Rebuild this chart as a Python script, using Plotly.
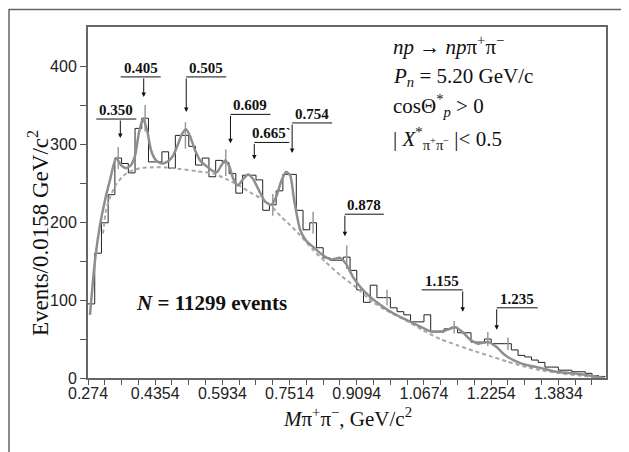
import plotly.graph_objects as go

# ---------------- data ----------------
x_start = 0.274
bin_width = 0.0158
counts = [95, 160, 199, 235, 282, 275, 263, 320, 333, 277,
          277, 290, 269, 311, 311, 297, 273, 282, 258, 279,
          276, 262, 237, 260, 260, 254, 215, 222, 240, 261,
          261, 215, 190, 199, 167, 154, 151, 151, 155, 138,
          113, 97, 119, 103, 103, 90, 85, 81, 72, 72,
          81, 59, 59, 63, 65, 58, 58, 46, 46, 50,
          44, 44, 44, 36, 29, 27, 23, 20, 14, 14,
          10, 10, 8, 8, 6, 3, 2]

err_bins = [4, 8, 14, 20, 27, 33, 38, 44, 54, 59, 62]
err_vals = [14, 17, 17, 17, 14, 14, 15, 10, 8, 9, 8]

fit_m = [0.2787, 0.2905, 0.3022, 0.3140, 0.3258, 0.3399, 0.3516, 0.3634, 0.3752, 0.3846,
         0.3940, 0.4034, 0.4128, 0.4222, 0.4340, 0.4481, 0.4622, 0.4740, 0.4858, 0.4952,
         0.5046, 0.5140, 0.5258, 0.5375, 0.5516, 0.5658, 0.5775, 0.5869, 0.5964, 0.6058,
         0.6152, 0.6269, 0.6387, 0.6505, 0.6622, 0.6764, 0.6905, 0.7046, 0.7164, 0.7281,
         0.7399, 0.7493, 0.7587, 0.7728, 0.7870, 0.8034, 0.8246, 0.8458, 0.8669, 0.8811,
         0.8975, 0.9140, 0.9375, 0.9611, 0.9916, 1.0246, 1.0552, 1.0787, 1.1093, 1.1375,
         1.1564, 1.1729, 1.1917, 1.2152, 1.2340, 1.2528, 1.2740, 1.3022, 1.3375, 1.3752,
         1.4152, 1.4552, 1.4881]
fit_v = [81, 151, 196, 228, 254, 282, 273, 269, 273, 285,
         315, 333, 318, 292, 279, 275, 278, 285, 300, 313,
         319, 310, 292, 279, 272, 266, 264, 272, 279, 272,
         256, 247, 255, 261, 255, 240, 226, 222, 232, 252,
         264, 260, 228, 190, 176, 168, 158, 152, 154, 146,
         129, 117, 104, 94, 83, 74, 66, 60, 60, 65,
         58, 49, 44, 46, 40, 30, 23, 17, 13, 8,
         6, 3, 0]

bg_m = [0.3093, 0.3164, 0.3258, 0.3399, 0.3564, 0.3728, 0.3964, 0.4199, 0.4552, 0.4905,
        0.5305, 0.5681, 0.6034, 0.6316, 0.6552, 0.6787, 0.7022, 0.7258, 0.7493, 0.7728,
        0.8034, 0.8340, 0.8669, 0.9046, 0.9446, 0.9846, 1.0246, 1.0622, 1.1022, 1.1422,
        1.1799, 1.2199, 1.2599, 1.2975, 1.3375, 1.3846, 1.4316, 1.4881]
bg_v = [185, 215, 232, 248, 259, 265, 269, 270, 270, 268,
        265, 262, 254, 246, 238, 231, 222, 208, 196, 183,
        164, 148, 132, 116, 97, 84, 73, 61, 50, 42,
        35, 28, 21, 15, 10, 6, 3, 0]

peak_labels = ["0.350", "0.405", "0.505", "0.609", "0.665`", "0.754", "0.878", "1.155", "1.235"]
peak_mass = [0.350, 0.405, 0.505, 0.609, 0.665, 0.754, 0.878, 1.155, 1.235]

x_tick_labels = ["0.274", "0.4354", "0.5934", "0.7514", "0.9094", "1.0674", "1.2254", "1.3834"]
y_tick_values = [0, 50, 100, 150, 200, 250, 300, 350, 400]

# ---------------- layout geometry ----------------
W, H = 629, 452
OFF = 8                      # page body margin offsets the figure in the window
PL, PT, PR, PB = 88, 27, 606, 378   # plot box in window pixels
ML, MT = PL - OFF, PT - OFF
MR, MB = W - (PR - OFF), H - (PB - OFF)
PW, PH = W - ML - MR, H - MT - MB
XR = [0.274, 1.492]
YR = [0, 450]
kx = (XR[1] - XR[0]) / PW   # data units per pixel
ky = (YR[1] - YR[0]) / PH

def pxx(px):
    return (px - OFF - ML) / PW

def pxy(py):
    return (H - MB - (py - OFF)) / PH

# arrow styling: (line y in data, arrow length px, line extents px relative to arrow)
arrow_style = [(332, 19, -24, 16), (386, 20, -23, 17), (386, 35, 0, 40), (338, 29, 0, 40),
               (302, 17, 0, 35), (327, 30, 0, 40), (210, 22, 0, 39), (113, 22, -41, 0),
               (90, 22, 0, 41)]

SERIF = "Liberation Serif"
SANS = "Liberation Sans"

edges = [x_start + i * bin_width for i in range(len(counts) + 1)]
centers = [x_start + (i + 0.5) * bin_width for i in range(len(counts))]

fig = go.Figure()

fig.add_trace(go.Scatter(x=edges, y=counts + [counts[-1]], mode="lines",
                         line=dict(shape="hv", color="#222222", width=1),
                         hoverinfo="skip", showlegend=False))
fig.add_trace(go.Scatter(x=[centers[i] for i in err_bins], y=[counts[i] for i in err_bins],
                         mode="markers", marker=dict(size=1, color="rgba(0,0,0,0)"),
                         error_y=dict(type="data", array=err_vals, width=0, thickness=1.5,
                                      color="#9a9a9a"),
                         hoverinfo="skip", showlegend=False))
fig.add_trace(go.Scatter(x=bg_m, y=bg_v, mode="lines",
                         line=dict(color="#a8a8a8", width=2, dash="4px,3px", shape="spline",
                                   smoothing=0.6),
                         hoverinfo="skip", showlegend=False))
fig.add_trace(go.Scatter(x=fit_m, y=fit_v, mode="lines",
                         line=dict(color="#8e8e8e", width=2.5, shape="spline", smoothing=0.6),
                         hoverinfo="skip", showlegend=False))

annotations = []
shapes = []
for lab, m, (ly, alen, d0, d1) in zip(peak_labels, peak_mass, arrow_style):
    tip_y = ly - alen * ky
    annotations.append(dict(x=m, y=tip_y, xref="x", yref="y", ax=0, ay=-alen,
                            text="", showarrow=True, arrowhead=2, arrowsize=0.9,
                            arrowwidth=1, arrowcolor="#111111"))
    shapes.append(dict(type="line", xref="x", yref="y", x0=m + d0 * kx, x1=m + d1 * kx,
                       y0=ly, y1=ly, line=dict(color="#111111", width=1)))
    annotations.append(dict(x=m + (d0 + d1) / 2 * kx, y=ly, xref="x", yref="y",
                            text="<b>%s</b>" % lab, showarrow=False, yanchor="bottom",
                            xanchor="center", yshift=-1,
                            font=dict(family=SERIF, size=15, color="#111111")))

# info text block
info_lines = [
    ("<i>np</i> → <i>np</i>π<sup>+</sup>π<sup>−</sup>", 45),
    ("<i>P<sub>n</sub></i> = 5.20 GeV/c", 77),
    ("cosΘ<sup>*</sup><sub><i>p</i></sub> > 0", 105),
    ("| <i>X</i><sup>*</sup><sub>π<sup>+</sup>π<sup>−</sup></sub> |< 0.5", 138),
]
for txt, py in info_lines:
    annotations.append(dict(x=pxx(391), y=pxy(py), xref="paper", yref="paper", text=txt,
                            showarrow=False, xanchor="left", yanchor="middle",
                            font=dict(family=SERIF, size=21, color="#111111")))

annotations.append(dict(x=pxx(211), y=pxy(303), xref="paper", yref="paper",
                        text="<b><i>N</i> = 11299 events</b>", showarrow=False,
                        xanchor="center", yanchor="middle",
                        font=dict(family=SERIF, size=21, color="#111111")))

annotations.append(dict(x=pxx(38), y=pxy(233), xref="paper", yref="paper",
                        text="Events/0.0158 GeV/c<sup>2</sup>", showarrow=False,
                        textangle=-90, xanchor="center", yanchor="middle",
                        font=dict(family=SERIF, size=23, color="#111111")))
annotations.append(dict(x=pxx(347), y=pxy(418), xref="paper", yref="paper",
                        text="<i>M</i>π<sup>+</sup>π<sup>−</sup>, GeV/c<sup>2</sup>",
                        showarrow=False, xanchor="center", yanchor="middle",
                        font=dict(family=SERIF, size=21, color="#111111")))

# outer frame (top and left edges)
shapes.append(dict(type="line", xref="paper", yref="paper", x0=pxx(OFF + 1), x1=pxx(640),
                   y0=pxy(9.5), y1=pxy(9.5), line=dict(color="#666666", width=1.5)))
shapes.append(dict(type="line", xref="paper", yref="paper", x0=pxx(OFF + 1), x1=pxx(OFF + 1),
                   y0=pxy(9), y1=pxy(470), line=dict(color="#666666", width=1.5)))

# x ticks: every 0.0395 with labels every fourth tick
x_ticks = [x_start + 0.0395 * k for k in range(31)]
x_text = [x_tick_labels[k // 4] if k % 4 == 0 and k // 4 < len(x_tick_labels) else ""
          for k in range(31)]
y_text = [str(v) if v % 100 == 0 else "" for v in y_tick_values]

fig.update_layout(
    width=W, height=H,
    margin=dict(l=ML, r=MR, t=MT, b=MB),
    paper_bgcolor="white", plot_bgcolor="white",
    showlegend=False,
    annotations=annotations, shapes=shapes,
    xaxis=dict(range=XR, tickmode="array", tickvals=x_ticks, ticktext=x_text,
               ticks="outside", ticklen=5, tickwidth=1.2, tickcolor="#555555",
               ticklabelstandoff=-5,
               showline=True, linecolor="#666666", linewidth=2, mirror=True,
               showgrid=False, zeroline=False,
               tickfont=dict(family=SANS, size=16, color="#222222")),
    yaxis=dict(range=YR, tickmode="array", tickvals=y_tick_values, ticktext=y_text,
               ticks="outside", ticklen=6, tickwidth=1.2, tickcolor="#555555",
               showline=True, linecolor="#666666", linewidth=2, mirror=True,
               showgrid=False, zeroline=False,
               tickfont=dict(family=SANS, size=16, color="#222222")),
)

fig.write_html("out.html")
